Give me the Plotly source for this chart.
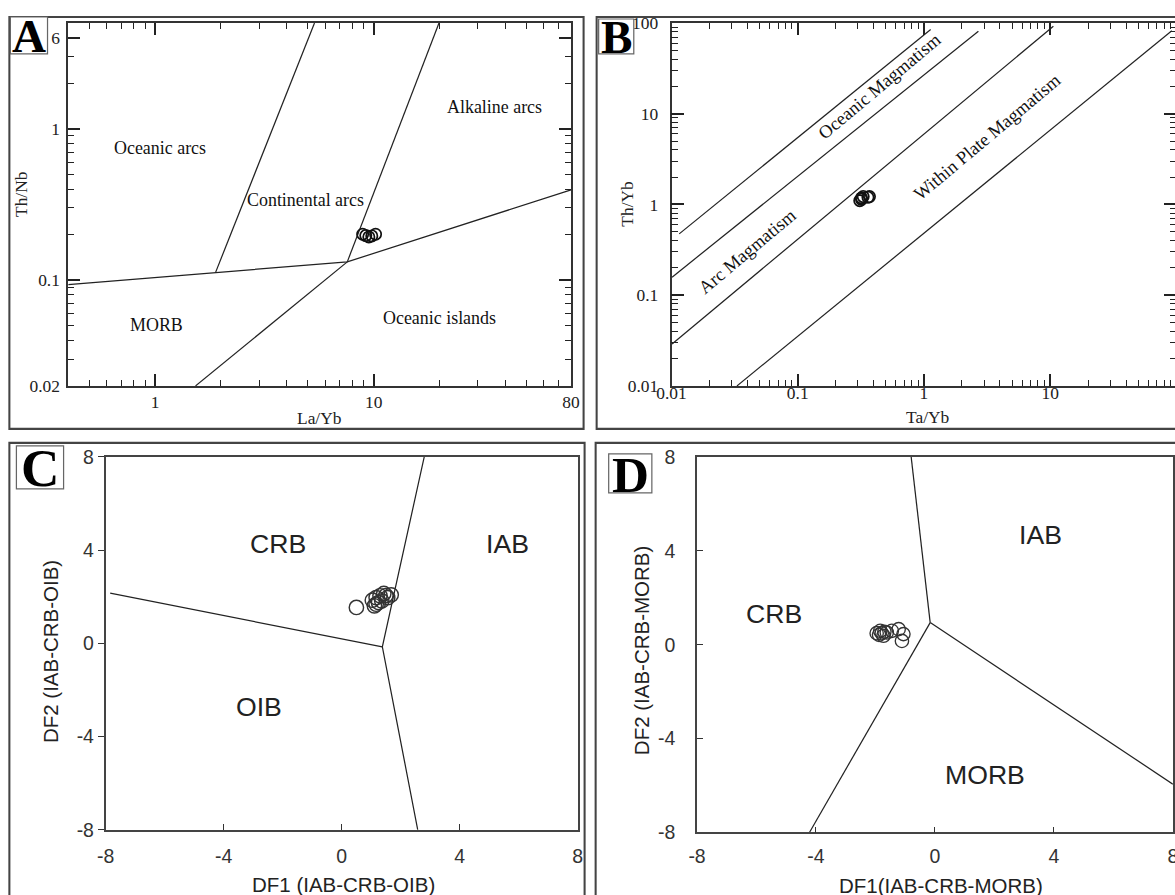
import math
import plotly.graph_objects as go

# ---------------- data ----------------
# Panel A : Th/Nb vs La/Yb
a_la_yb = [8.9, 9.2, 9.5, 9.8, 10.2]
a_th_nb = [0.201, 0.197, 0.193, 0.196, 0.201]
a_lines_x = [[1.89, 5.36], [7.57, 19.9], [0.4, 1.89, 7.57, 80.0], [7.57, 1.53]]
a_lines_y = [[0.1125, 5.0], [0.132, 5.0], [0.0933, 0.1125, 0.132, 0.395], [0.132, 0.02]]
a_region_names = ["Oceanic arcs", "Continental arcs", "Alkaline arcs", "MORB", "Oceanic islands"]
a_region_x = [1.05, 4.9, 35.6, 1.01, 19.9]
a_region_y = [0.746, 0.339, 1.39, 0.0508, 0.0565]
a_xtick_vals = [1, 10, 80]
a_xtick_text = ["1", "10", "80"]
a_ytick_vals = [0.02, 0.1, 1, 4]
a_ytick_text = ["0.02", "0.1", "1", "6"]

# Panel B : Th/Yb vs Ta/Yb
b_ta_yb = [0.31, 0.32, 0.33, 0.36, 0.37, 0.32]
b_th_yb = [1.10, 1.18, 1.22, 1.20, 1.22, 1.14]
b_lines_x = [[0.0115, 1.13], [0.0101, 2.70], [0.0101, 10.6], [0.033, 92.0]]
b_lines_y = [[0.474, 84.6], [0.158, 81.0], [0.029, 92.0], [0.01, 82.0]]
b_region_names = ["Oceanic Magmatism", "Arc Magmatism", "Within Plate Magmatism"]
b_region_x = [0.449, 0.0403, 3.18]
b_region_y = [20.1, 0.306, 5.51]
b_tick_vals = [0.01, 0.1, 1, 10, 100]
b_tick_text = ["0.01", "0.1", "1", "10", "100"]

# Panel C : DF1 vs DF2 (IAB-CRB-OIB)
c_df1 = [0.50, 1.04, 1.17, 1.30, 1.43, 1.56, 1.68, 1.17, 1.36, 1.11, 1.25, 1.50]
c_df2 = [1.54, 1.85, 1.68, 2.04, 2.14, 1.96, 2.08, 1.96, 1.82, 1.61, 1.75, 2.05]
c_lines_x = [[-7.85, 1.38], [2.8, 1.38, 2.58]]
c_lines_y = [[2.15, -0.15], [8.0, -0.15, -8.0]]
c_region_names = ["CRB", "IAB", "OIB"]
c_region_x = [-2.16, 5.63, -2.80]
c_region_y = [4.28, 4.28, -2.75]

# Panel D : DF1 vs DF2 (IAB-CRB-MORB)
d_df1 = [-1.96, -1.84, -1.79, -1.73, -1.62, -1.45, -1.22, -1.06, -1.11, -1.70, -1.88]
d_df2 = [0.49, 0.59, 0.49, 0.38, 0.52, 0.59, 0.66, 0.45, 0.16, 0.55, 0.42]
d_lines_x = [[-0.80, -0.16], [-0.16, -4.22], [-0.16, 8.0]]
d_lines_y = [[8.0, 0.94], [0.94, -8.0], [0.94, -5.94]]
d_region_names = ["IAB", "CRB", "MORB"]
d_region_x = [3.56, -5.42, 1.69]
d_region_y = [4.68, 1.30, -5.54]

df_tick_vals = [-8, -4, 0, 4, 8]
df_tick_text = ["-8", "-4", "0", "4", "8"]

# ---------------- figure ----------------
# The photographed page shows the figure slightly reduced and offset, so the
# layout is expressed in target-picture pixels and converted here.
S = 0.976          # picture px per figure px
OX, OY = 16.6, 10  # picture offset of the figure origin
K = 1 / S
W = int(round((1175 - OX) / S))
H = int(round((895 - OY) / S))
SERIF = "Liberation Serif"
SANS = "Liberation Sans"


def fx(p):
    return ((p - OX) / S) / W


def fy(p):
    return 1 - ((p - OY) / S) / H


def log_minor(lo_exp, hi_exp):
    vals = []
    for e in range(lo_exp, hi_exp):
        for m in range(2, 10):
            vals.append(round(m * 10 ** e, 6))
    return vals


fig = go.Figure()

line_style = dict(color="#222", width=1.2 * K)


def add_lines(xs_list, ys_list, xa, ya):
    for xs, ys in zip(xs_list, ys_list):
        fig.add_trace(go.Scatter(x=xs, y=ys, mode="lines", line=line_style,
                                 xaxis=xa, yaxis=ya, showlegend=False, hoverinfo="skip"))


def add_points(xs, ys, xa, ya, size, color, width):
    fig.add_trace(go.Scatter(x=xs, y=ys, mode="markers", xaxis=xa, yaxis=ya,
                             marker=dict(symbol="circle-open", size=size * K, color=color,
                                         line=dict(width=width * K)),
                             showlegend=False))


add_lines(a_lines_x, a_lines_y, "x", "y")
add_points(a_la_yb, a_th_nb, "x", "y", 11, "#111", 1.7)
add_lines(b_lines_x, b_lines_y, "x2", "y2")
add_points(b_ta_yb, b_th_yb, "x2", "y2", 11, "#111", 1.7)
add_lines(c_lines_x, c_lines_y, "x3", "y3")
add_points(c_df1, c_df2, "x3", "y3", 14, "#333", 1.4)
add_lines(d_lines_x, d_lines_y, "x4", "y4")
add_points(d_df1, d_df2, "x4", "y4", 13, "#333", 1.3)


def log_axis(domain, rng, tickvals, ticktext, minor_vals, anchor, standoff):
    return dict(domain=domain, type="log", range=rng, tickmode="array",
                tickvals=tickvals, ticktext=ticktext,
                ticks="inside", ticklen=12 * K, tickwidth=1.5 * K, tickcolor="#222",
                minor=dict(tickmode="array", tickvals=minor_vals, ticks="inside",
                           ticklen=6 * K, tickwidth=1.4 * K, tickcolor="#222", showgrid=False),
                showline=True, linecolor="#333", linewidth=1.6 * K, mirror="ticks",
                showgrid=False, zeroline=False, anchor=anchor,
                tickfont=dict(family=SERIF, size=17 * K, color="#222"),
                ticklabelstandoff=int(round(standoff * K)))


def lin_axis(domain, anchor, ticks, standoff):
    return dict(domain=domain, range=[-8, 8], tickmode="array",
                tickvals=df_tick_vals, ticktext=df_tick_text,
                ticks=ticks, ticklen=6 * K, tickwidth=1.4 * K, tickcolor="#333",
                showline=True, linecolor="#444", linewidth=1.5 * K, mirror=True,
                showgrid=False, zeroline=False, anchor=anchor,
                tickfont=dict(family=SANS, size=19 * K, color="#333"),
                ticklabelstandoff=int(round(standoff * K)))


layout = dict(
    width=W, height=H, autosize=False,
    margin=dict(l=0, r=0, t=0, b=0),
    paper_bgcolor="white", plot_bgcolor="rgba(0,0,0,0)",
    showlegend=False,
)
ax_a_x = log_axis([fx(69.6), fx(570.5)], [math.log10(0.4), math.log10(80)],
                  a_xtick_vals, a_xtick_text,
                  [0.5, 0.6, 0.7, 0.8, 0.9] + log_minor(0, 2), "y", -1)
ax_a_y = log_axis([fy(385), fy(22)], [math.log10(0.02), math.log10(5)],
                  a_ytick_vals, a_ytick_text,
                  [0.03, 0.04, 0.05, 0.06, 0.07, 0.08, 0.09] + log_minor(-1, 0) + [2, 3],
                  "x", 3)
ax_b_x = log_axis([fx(670.6), fx(1173.5)], [-2, 2], b_tick_vals, b_tick_text,
                  log_minor(-2, 2), "y2", -10)
ax_b_y = log_axis([fy(385), fy(22)], [-2, 2], b_tick_vals, b_tick_text,
                  log_minor(-2, 2), "x2", 8)
ax_c_x = lin_axis([fx(107), fx(577)], "y3", "inside", 8)
ax_c_y = lin_axis([fy(829), fy(456)], "x3", "outside", 0)
ax_d_x = lin_axis([fx(696), fx(1170)], "y4", "inside", 5)
ax_d_y = lin_axis([fy(831.7), fy(456)], "x4", "inside", 16)
layout.update(xaxis=ax_a_x, yaxis=ax_a_y, xaxis2=ax_b_x, yaxis2=ax_b_y,
              xaxis3=ax_c_x, yaxis3=ax_c_y, xaxis4=ax_d_x, yaxis4=ax_d_y)


def overlay(base, base_id, side, anchor):
    """tick-only twin placed on the opposite side; its mirrored ticks
    land on the base axis' own side."""
    o = dict(base)
    o.pop("domain", None)
    o.pop("ticklabelstandoff", None)
    o.update(overlaying=base_id, side=side, showticklabels=False, mirror="ticks", anchor=anchor)
    return o


layout.update(
    xaxis5=overlay(ax_a_x, "x", "top", "y"), yaxis5=overlay(ax_a_y, "y", "right", "x"),
    xaxis6=overlay(ax_b_x, "x2", "top", "y2"), yaxis6=overlay(ax_b_y, "y2", "right", "x2"),
    xaxis7=overlay(ax_c_x, "x3", "top", "y3"), yaxis7=overlay(ax_c_y, "y3", "right", "x3"),
    xaxis8=overlay(ax_d_x, "x4", "top", "y4"), yaxis8=overlay(ax_d_y, "y4", "right", "x4"),
)

fig.update_layout(**layout)

shapes = []
# panel frames
for (x0, y0, x1, y1) in [(11, 16, 583, 428), (596, 16, 1200, 428),
                         (11, 442, 584, 920), (595, 442, 1200, 920)]:
    shapes.append(dict(type="rect", xref="paper", yref="paper",
                       x0=fx(x0), x1=fx(x1), y0=fy(y1), y1=fy(y0),
                       line=dict(color="#444", width=2 * K), fillcolor="rgba(0,0,0,0)", layer="above"))
# letter boxes
letter_boxes = [("A", 12, 16, 49, 53, 46), ("B", 598, 18, 633, 53, 46),
                ("C", 18, 445, 65, 488, 52), ("D", 608, 453, 651, 492, 50)]
annotations = []
for (lab, x0, y0, x1, y1, fs) in letter_boxes:
    shapes.append(dict(type="rect", xref="paper", yref="paper",
                       x0=fx(x0), x1=fx(x1), y0=fy(y1), y1=fy(y0),
                       line=dict(color="#666", width=1.2 * K), fillcolor="white", layer="above"))
    annotations.append(dict(text="<b>%s</b>" % lab, xref="paper", yref="paper",
                            x=fx((x0 + x1) / 2), y=fy((y0 + y1) / 2 + 1), xanchor="center", yanchor="middle",
                            showarrow=False, font=dict(family=SERIF, size=fs * K, color="#000")))

# region labels
for n, xv, yv in zip(a_region_names, a_region_x, a_region_y):
    annotations.append(dict(text=n, xref="x", yref="y", x=math.log10(xv), y=math.log10(yv),
                            showarrow=False, font=dict(family=SERIF, size=17.5 * K, color="#111")))
for n, xv, yv in zip(b_region_names, b_region_x, b_region_y):
    annotations.append(dict(text=n, xref="x2", yref="y2", x=math.log10(xv), y=math.log10(yv),
                            showarrow=False, textangle=-40,
                            font=dict(family=SERIF, size=18 * K, color="#111")))
for n, xv, yv in zip(c_region_names, c_region_x, c_region_y):
    annotations.append(dict(text=n, xref="x3", yref="y3", x=xv, y=yv,
                            showarrow=False, font=dict(family=SANS, size=26 * K, color="#222")))
for n, xv, yv in zip(d_region_names, d_region_x, d_region_y):
    annotations.append(dict(text=n, xref="x4", yref="y4", x=xv, y=yv,
                            showarrow=False, font=dict(family=SANS, size=26 * K, color="#222")))

# axis titles (target-picture pixel positions)
titles = [
    ("La/Yb", 320, 417, 0, SERIF, 17),
    ("Th/Nb", 22.6, 193, -90, SERIF, 17),
    ("Ta/Yb", 925.6, 416, 0, SERIF, 17),
    ("Th/Yb", 626, 203, -90, SERIF, 17),
    ("DF1 (IAB-CRB-OIB)", 344, 884, 0, SANS, 20),
    ("DF2 (IAB-CRB-OIB)", 52.7, 651, -90, SANS, 20),
    ("DF1(IAB-CRB-MORB)", 938.8, 885, 0, SANS, 20),
    ("DF2 (IAB-CRB-MORB)", 641.5, 650, -90, SANS, 20),
]
for (t, px, py, ang, fam, fs) in titles:
    annotations.append(dict(text=t, xref="paper", yref="paper", x=fx(px), y=fy(py),
                            xanchor="center", yanchor="middle", textangle=ang, showarrow=False,
                            font=dict(family=fam, size=fs * K, color="#222")))

fig.update_layout(shapes=shapes, annotations=annotations)
fig.write_html("out.html")
